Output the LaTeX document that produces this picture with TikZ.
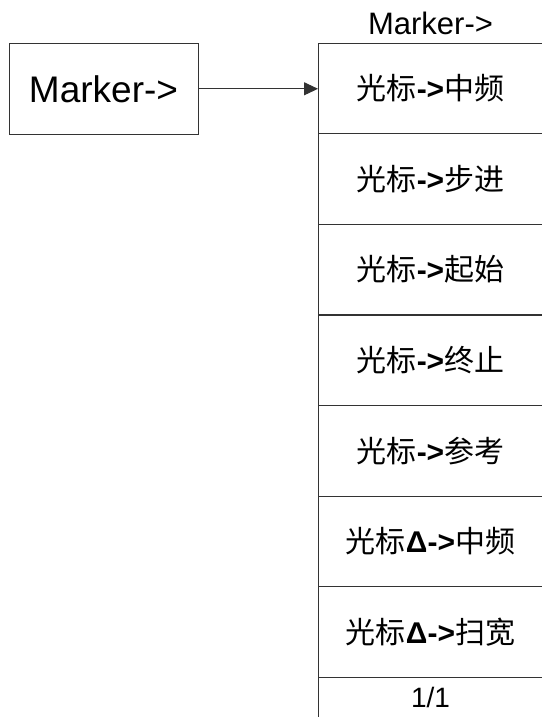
\documentclass[tikz,border=0pt]{standalone}
\usepackage{fontspec}
\setmainfont{Liberation Sans}
\newfontfamily\cjk{Noto Sans CJK SC}
\usetikzlibrary{arrows.meta}
\newcommand{\itm}[3]{{\cjk #1}\textbf{#2}{\cjk #3}}
\begin{document}
\begin{tikzpicture}[x=1pt,y=1pt,
  ln/.style={draw=black!80,line width=1pt},
  leftbox/.style={ln,minimum width=189pt,minimum height=91pt,inner sep=0pt,outer sep=0pt,font=\fontsize{37}{44}\selectfont},
  rowbox/.style={ln,minimum width=225pt,minimum height=90.57pt,inner sep=0pt,outer sep=0pt,font=\fontsize{30}{36}\selectfont},
  lbl/.style={inner sep=0pt,anchor=base}]
\useasboundingbox (0,0) rectangle (541,719);
\node[leftbox] (left) at (103.5,630.2) {Marker->};
\node[lbl,font=\fontsize{31}{37}\selectfont] (title) at (430.5,684) {Marker->};
\node[rowbox] (r0) at (430.5,630.4) {\itm{光标}{->}{中频}};
\node[rowbox] (r1) at (430.5,539.8) {\itm{光标}{->}{步进}};
\node[rowbox] (r2) at (430.5,449.3) {\itm{光标}{->}{起始}};
\node[rowbox] (r3) at (430.5,358.7) {\itm{光标}{->}{终止}};
\node[rowbox] (r4) at (430.5,268.1) {\itm{光标}{->}{参考}};
\node[rowbox] (r5) at (430.5,177.6) {\itm{光标}{Δ->}{中频}};
\node[rowbox] (r6) at (430.5,87.0) {\itm{光标}{Δ->}{扫宽}};
\node[lbl,font=\fontsize{28}{34}\selectfont] (page) at (430.5,11) {1/1};
\coordinate (bend) at (318,2.3);
\draw[ln] (r6.south west) -- (bend);
\draw[ln,-{Triangle[length=14pt,width=13pt]}] (left.east) -- (left.east -| r0.west);
\end{tikzpicture}
\end{document}
